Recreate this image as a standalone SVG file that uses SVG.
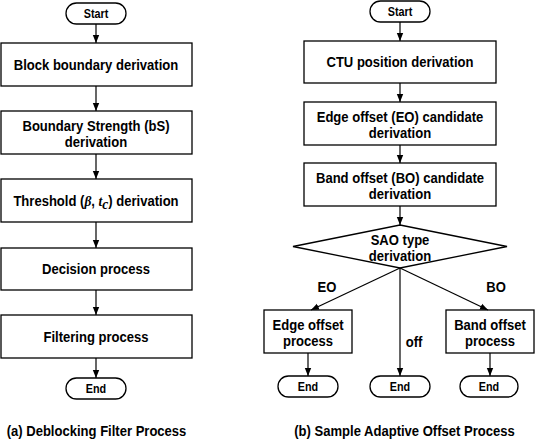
<svg xmlns="http://www.w3.org/2000/svg" width="538" height="444" viewBox="0 0 538 444">
<style>
.b{fill:#fff;stroke:#000;stroke-width:1.3}
.t,.cap{font-family:"Liberation Sans",Arial,sans-serif;font-weight:bold;font-size:14.5px;text-anchor:middle;fill:#000;transform-box:fill-box;transform-origin:center;transform:scaleX(0.9)}
.s{font-size:12px}
.m{font-family:"Liberation Serif",serif;font-style:italic;font-size:15px}
.c line{stroke:#000;stroke-width:1.2;marker-end:url(#ah)}
</style>
<defs>
<marker id="ah" markerUnits="userSpaceOnUse" markerWidth="8" markerHeight="8" viewBox="0 0 8 8" refX="8" refY="4" orient="auto">
<path d="M0,0.8 L8,4 L0,7.2 Z" fill="#000"/>
</marker>
</defs>
<rect width="538" height="444" fill="#fff"/>
<g id="a-start"><rect class="b" x="66" y="3" width="60" height="21" rx="10.5"/><text class="t s" x="96" y="18">Start</text></g>
<g id="a-box1"><rect class="b" x="1" y="43" width="191" height="43"/><text class="t" x="96" y="70">Block boundary derivation</text></g>
<g id="a-box2"><rect class="b" x="1" y="111" width="191" height="43"/><text class="t" x="96" y="131.5">Boundary Strength (bS)</text><text class="t" x="96" y="147.5">derivation</text></g>
<g id="a-box3"><rect class="b" x="1" y="179" width="191" height="43"/><text class="t" x="96" y="206">Threshold (<tspan class="m">β</tspan>, <tspan class="m">t</tspan><tspan class="m" font-size="10" dy="3">c</tspan><tspan dy="-3">) derivation</tspan></text></g>
<g id="a-box4"><rect class="b" x="1" y="248" width="191" height="42"/><text class="t" x="96" y="274.5">Decision process</text></g>
<g id="a-box5"><rect class="b" x="1" y="315" width="191" height="43"/><text class="t" x="96" y="342">Filtering process</text></g>
<g id="a-end"><rect class="b" x="66" y="378" width="60" height="21" rx="10.5"/><text class="t s" x="96" y="393">End</text></g>
<text class="cap" x="96.5" y="436">(a) Deblocking Filter Process</text>

<g id="b-start"><rect class="b" x="370" y="1" width="60" height="21" rx="10.5"/><text class="t s" x="400" y="16">Start</text></g>
<g id="b-ctu"><rect class="b" x="304" y="41" width="192" height="42"/><text class="t" x="400" y="67.5">CTU position derivation</text></g>
<g id="b-eo"><rect class="b" x="304" y="102" width="192" height="43"/><text class="t" x="400" y="122.5">Edge offset (EO) candidate</text><text class="t" x="400" y="138.5">derivation</text></g>
<g id="b-bo"><rect class="b" x="304" y="163" width="192" height="43"/><text class="t" x="400" y="183.5">Band offset (BO) candidate</text><text class="t" x="400" y="199.5">derivation</text></g>
<g id="b-sao"><polygon class="b" points="400,225 507,246.5 400,268 293,246.5"/><text class="t" x="400" y="245">SAO type</text><text class="t" x="400" y="261.5">derivation</text></g>
<g id="b-eop"><rect class="b" x="264" y="310" width="88" height="43"/><text class="t" x="308" y="330.5">Edge offset</text><text class="t" x="308" y="346.5">process</text></g>
<g id="b-bop"><rect class="b" x="446" y="310" width="88" height="43"/><text class="t" x="490" y="330.5">Band offset</text><text class="t" x="490" y="346.5">process</text></g>
<g id="b-end1"><rect class="b" x="278" y="376" width="60" height="21" rx="10.5"/><text class="t s" x="308" y="391">End</text></g>
<g id="b-end2"><rect class="b" x="370" y="376" width="60" height="21" rx="10.5"/><text class="t s" x="400" y="391">End</text></g>
<g id="b-end3"><rect class="b" x="460" y="376" width="58" height="21" rx="10.5"/><text class="t s" x="489" y="391">End</text></g>
<text class="cap" x="404.5" y="436">(b) Sample Adaptive Offset Process</text>

<g id="connectors" class="c">
<line x1="96" y1="24" x2="96" y2="43"/>
<line x1="96" y1="86" x2="96" y2="111"/>
<line x1="96" y1="154" x2="96" y2="179"/>
<line x1="96" y1="222" x2="96" y2="248"/>
<line x1="96" y1="290" x2="96" y2="315"/>
<line x1="96" y1="358" x2="96" y2="378"/>
<line x1="400" y1="22" x2="400" y2="41"/>
<line x1="400" y1="83" x2="400" y2="102"/>
<line x1="400" y1="145" x2="400" y2="163"/>
<line x1="400" y1="206" x2="400" y2="225"/>
<line x1="400" y1="268" x2="311" y2="310"/>
<line x1="400" y1="268" x2="400" y2="376"/>
<line x1="400" y1="268" x2="488" y2="310"/>
<line x1="308" y1="353" x2="308" y2="376"/>
<line x1="490" y1="353" x2="490" y2="376"/>
</g>
<g id="labels">
<text class="t" x="327" y="292.5">EO</text>
<text class="t" x="496" y="292.5">BO</text>
<text class="t" x="414" y="347.5">off</text>
</g>
</svg>
